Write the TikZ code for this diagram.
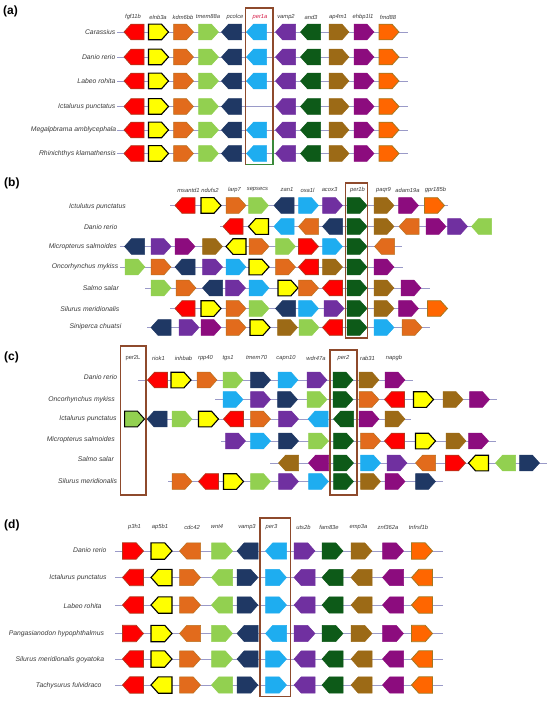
\documentclass[tikz,border=0pt]{standalone}
\usepackage{fontspec}
\setmainfont{Liberation Sans}
\definecolor{cRed}{HTML}{FF0000}
\definecolor{cRedD}{HTML}{B0381C}
\definecolor{cYel}{HTML}{FFFF00}
\definecolor{cOra}{HTML}{E26B1C}
\definecolor{cOraD}{HTML}{B8701E}
\definecolor{cBOra}{HTML}{FF6600}
\definecolor{cBOraD}{HTML}{A37820}
\definecolor{cLG}{HTML}{92D050}
\definecolor{cNav}{HTML}{1F3864}
\definecolor{cLB}{HTML}{1EADF0}
\definecolor{cPur}{HTML}{7030A0}
\definecolor{cDG}{HTML}{0D5A18}
\definecolor{cBrn}{HTML}{9C6A16}
\definecolor{cMag}{HTML}{8C0C7E}
\definecolor{cLine}{HTML}{9A9AC8}
\definecolor{cBox}{HTML}{8E4A2C}
\definecolor{cGrn}{HTML}{3A8A3A}
\definecolor{cTxt}{HTML}{3A3A3A}
\definecolor{cPer}{HTML}{D8204A}
\tikzset{
 gshape/.style={line join=miter, line width=0.5pt},
 redg/.style={fill=cRed, draw=cRedD, line width=0.7pt},
 yelg/.style={fill=cYel, draw=black, line width=1.1pt},
 orag/.style={fill=cOra, draw=cOraD},
 borg/.style={fill=cBOra, draw=cBOraD, line width=0.8pt},
 lgrg/.style={fill=cLG, draw=cLG},
 lgbk/.style={fill=cLG, draw=black, line width=1pt},
 navg/.style={fill=cNav, draw=cNav},
 lblg/.style={fill=cLB, draw=cLB},
 purg/.style={fill=cPur, draw=cPur},
 dkgg/.style={fill=cDG, draw=cDG},
 brng/.style={fill=cBrn, draw=cBrn},
 magg/.style={fill=cMag, draw=cMag},
 bline/.style={draw=cLine, line width=0.6pt},
 hbox/.style={draw=cBox, line width=1.2pt},
 splab/.style={anchor=east, inner sep=0pt, text=cTxt, font=\fontsize{6.8}{8}\selectfont\itshape},
 gnlab/.style={inner sep=0pt, text=cTxt, font=\fontsize{5.8}{7}\selectfont\itshape},
 pnlab/.style={anchor=west, inner sep=0pt, font=\fontsize{12}{14}\selectfont\bfseries},
}
\def\ghw{10}\def\gtp{7}\def\ghh{7.8}
\newcommand\genearrow[4]{\draw[gshape,#4] ({#1-\ghw*(#3)},{#2-\ghh}) -- ({#1+(\ghw-\gtp)*(#3)},{#2-\ghh}) -- ({#1+\ghw*(#3)},{#2}) -- ({#1+(\ghw-\gtp)*(#3)},{#2+\ghh}) -- ({#1-\ghw*(#3)},{#2+\ghh}) -- cycle;}
\newcommand\generow[4]{%
 \draw[bline] (#2,#1) -- (#3,#1);
 \foreach \cx/\dd/\ss in {#4} {\edef\mytmpg{\noexpand\genearrow{\cx}{#1}{\dd}{\ss}}\mytmpg}}
\begin{document}
\begin{tikzpicture}[x=1pt,y=-1pt]
\useasboundingbox (0,0) rectangle (550,703);
\fill[white] (0,0) rectangle (550,703);
% ================= (a)
\node[pnlab] (pa) at (3,11) {(a)};
\foreach \nm/\xx/\tt in {a1/133/fgf11b, a2/158/elnb3a, a3/183/kdm6bb, a4/208/tmem88a, a5/235/pcolce, a7/286/vamp2, a8/311/and3, a9/338/ap4m1, a10/363/ehbp1l1, a11/388/fmd88}
  {\node[gnlab] (g\nm) at (\xx,17) {\tt};}
\node[gnlab, text=cPer] (ga6) at (260,17) {per1a};
\node[splab] (sa1) at (115.5,32) {Carassius};
\node[splab] (sa2) at (115.5,57) {Danio rerio};
\node[splab] (sa3) at (115.5,81) {Labeo rohita};
\node[splab] (sa4) at (115.5,106.5) {Ictalurus punctatus};
\node[splab] (sa5) at (116.5,130) {Megalpbrama amblycephala};
\node[splab] (sa6) at (116,153.5) {Rhinichthys klamathensis};
\generow{32}{117}{408}{134/-1/redg, 158.5/1/yelg, 183.5/1/orag, 208.5/1/lgrg, 231.5/-1/navg, 256.5/-1/lblg, 285.5/-1/purg, 310.5/-1/dkgg, 339/1/brng, 364/1/magg, 389/1/borg}
\generow{57}{117}{408}{134/-1/redg, 158.5/1/yelg, 183.5/1/orag, 208.5/1/lgrg, 231.5/-1/navg, 256.5/-1/lblg, 285.5/-1/purg, 310.5/-1/dkgg, 339/1/brng, 364/1/magg, 389/1/borg}
\generow{81}{117}{408}{134/-1/redg, 158.5/1/yelg, 183.5/1/orag, 208.5/1/lgrg, 231.5/-1/navg, 256.5/-1/lblg, 285.5/-1/purg, 310.5/-1/dkgg, 339/1/brng, 364/1/magg, 389/1/borg}
\generow{106.5}{117}{408}{134/-1/redg, 158.5/1/yelg, 183.5/1/orag, 208.5/1/lgrg, 231.5/-1/navg, 285.5/-1/purg, 310.5/-1/dkgg, 339/1/brng, 364/1/magg, 389/1/borg}
\generow{130}{117}{408}{134/-1/redg, 158.5/1/yelg, 183.5/1/orag, 208.5/1/lgrg, 231.5/-1/navg, 256.5/-1/lblg, 285.5/-1/purg, 310.5/-1/dkgg, 339/1/brng, 364/1/magg, 389/1/borg}
\generow{153.5}{117}{408}{134/-1/redg, 158.5/1/yelg, 183.5/1/orag, 208.5/1/lgrg, 231.5/-1/navg, 256.5/-1/lblg, 285.5/-1/purg, 310.5/-1/dkgg, 339/1/brng, 364/1/magg, 389/1/borg}
\draw[hbox] (245.5,8) rectangle (273,164.5);
\draw[draw=cGrn, line width=1.2pt] (245.5,164.5) -- (273,164.5) -- (273,140);
% ================= (b)
\node[pnlab] (pb) at (4,183) {(b)};
\foreach \nm/\xx/\tt in {b1/188.5/msantd1, b2/210/ndufs2, b3/234.5/larp7, b4/257.5/sepsecs, b5/287/zan1, b6/307.5/oxa1l, b7/329.5/acox3, b8/357.5/per1b, b9/383.5/paqr9, b10/407.5/adam19a, b11/435.5/gpr185b}
  {\node[gnlab] (g\nm) at (\xx,190) {\tt};}
\node[splab] (sb1) at (126,206.5) {Ictulutus punctatus};
\node[splab] (sb2) at (117.5,227) {Danio rerio};
\node[splab] (sb3) at (117,246.5) {Micropterus salmoides};
\node[splab] (sb4) at (118.5,267) {Oncorhynchus mykiss};
\node[splab] (sb5) at (119,288) {Salmo salar};
\node[splab] (sb6) at (119.5,309.5) {Silurus meridionalis};
\node[splab] (sb7) at (121.5,326.5) {Siniperca chuatsi};
\generow{205.5}{170}{448}{185/-1/redg, 211/1/yelg, 236/1/orag, 258.5/1/lgrg, 284/-1/navg, 308.5/1/lblg, 332.5/1/purg, 357/1/dkgg, 384/1/brng, 408.5/1/magg, 434.5/1/borg}
\generow{226.5}{220}{490}{233/-1/redg, 258.5/-1/yelg, 284/-1/lblg, 308.5/-1/orag, 332.5/-1/navg, 357/1/dkgg, 384/1/brng, 409/-1/orag, 436/1/magg, 457.5/1/purg, 481.5/-1/lgrg}
\generow{246.5}{120}{402}{134.5/-1/navg, 161/1/purg, 185/1/magg, 212.5/1/brng, 236/-1/yelg, 259/1/orag, 285.5/1/lgrg, 308.5/1/redg, 332.5/1/lblg, 357/1/dkgg, 384.5/-1/orag}
\generow{267}{120}{403}{135/1/lgrg, 161/1/orag, 185/-1/navg, 212.5/1/purg, 236/1/lblg, 259/1/yelg, 285.5/1/orag, 308.5/-1/redg, 332.5/1/brng, 357/1/dkgg, 384/1/magg}
\generow{288}{145}{430}{161/1/lgrg, 186/1/orag, 212.5/-1/navg, 235.5/1/purg, 259/1/lblg, 288/1/yelg, 308.5/1/orag, 332.5/-1/redg, 357/1/dkgg, 384/1/brng, 411/1/magg}
\generow{308.5}{170}{448}{185/-1/redg, 211/1/yelg, 236/1/orag, 259/1/lgrg, 285.5/-1/navg, 308.5/1/lblg, 334/1/purg, 357/1/dkgg, 384/1/brng, 408.5/1/magg, 437.5/1/borg}
\generow{327.5}{147}{430}{161/-1/navg, 189/1/purg, 211/1/magg, 236/1/orag, 260/1/yelg, 287.5/1/brng, 309/1/lgrg, 332.5/-1/redg, 357/1/dkgg, 384/1/lblg, 412/1/orag}
\draw[hbox] (345.7,183) rectangle (367.3,338);
% ================= (c)
\node[pnlab] (pc) at (4,357) {(c)};
\node[gnlab, font=\fontsize{5.8}{7}\selectfont] (gc1) at (133,358) {per2L};
\foreach \nm/\xx/\tt in {c2/158.5/riok1, c3/183.5/inhbab, c4/205.5/rpp40, c5/228/tgs1, c6/256.5/tmem70, c7/286/capn10, c8/316/wdr47a, c9/343.5/per2, c10/367.5/rab31, c11/394/napgb}
  {\node[gnlab] (g\nm) at (\xx,358) {\tt};}
\node[splab] (sc1) at (117.3,377) {Danio rerio};
\node[splab] (sc2) at (115,400) {Oncorhynchus mykiss};
\node[splab] (sc3) at (116.7,419) {Ictalurus punctatus};
\node[splab] (sc4) at (115,440) {Micropterus salmoides};
\node[splab] (sc5) at (114,459) {Salmo salar};
\node[splab] (sc6) at (117.3,481.5) {Silurus meridionalis};
\generow{380}{138}{413}{157.5/-1/redg, 181/1/yelg, 207/1/orag, 233/1/lgrg, 260.5/1/navg, 288/1/lblg, 317/1/purg, 343/1/dkgg, 369/1/brng, 395/1/magg}
\generow{399.5}{215}{497}{233/1/lblg, 260.5/1/purg, 287.5/1/navg, 317/1/lgrg, 343/1/dkgg, 369/1/orag, 394.5/-1/redg, 423.5/1/yelg, 453/1/brng, 479.5/1/magg}
\generow{419}{125}{411}{134.5/1/lgbk, 157/-1/navg, 182/1/lgrg, 208.5/1/yelg, 233.5/-1/redg, 260.5/1/orag, 288.5/1/purg, 318/-1/lblg, 343.5/-1/dkgg, 369/1/magg, 395/1/brng}
\generow{441}{221}{496}{235.5/1/purg, 260.5/1/lblg, 288.5/1/navg, 318.5/1/lgrg, 343.5/1/dkgg, 370.5/1/orag, 394.5/-1/redg, 425.5/1/yelg, 456/1/brng, 478.5/1/magg}
\generow{463}{270}{547}{288.5/-1/brng, 318.5/-1/magg, 343.5/1/dkgg, 370.5/1/lblg, 397/1/purg, 425.5/-1/orag, 455.5/1/redg, 478.5/-1/yelg, 505.5/-1/lgrg, 529.5/1/navg}
\generow{481.5}{168}{443}{182/1/orag, 208.5/-1/redg, 233.5/1/yelg, 260.5/1/lgrg, 288.5/1/purg, 318.5/1/lblg, 343.5/1/dkgg, 370.5/1/brng, 395/1/magg, 425.5/1/navg}
\draw[hbox] (120.7,346) rectangle (146,495);
\draw[hbox] (330,350) rectangle (357,495);
% ================= (d)
\node[pnlab] (pd) at (4,525) {(d)};
\foreach \nm/\xx/\tt in {d1/134.5/p3h1, d2/160/ap5b1, d3/192/cdc42, d4/217/wnt4, d5/247/vamp3, d6/271.5/per3, d7/303.5/uts2b, d8/329/fam83e, d9/358.5/emp3a, d10/388/znf362a, d11/418.5/tnfrsf1b}
  {\node[gnlab] (g\nm) at (\xx,527) {\tt};}
\node[splab] (sd1) at (106.7,550) {Danio rerio};
\node[splab] (sd2) at (106.7,577.3) {Ictalurus punctatus};
\node[splab] (sd3) at (101.7,606) {Labeo rohita};
\node[splab] (sd4) at (104.3,634) {Pangasianodon hypophthalmus};
\node[splab] (sd5) at (104.3,659.3) {Silurus meridionalis goyatoka};
\node[splab] (sd6) at (101.7,686) {Tachysurus fulvidraco};
\def\ghw{10.5}\def\gtp{7.3}\def\ghh{8.2}
\generow{551}{115}{443}{133/1/redg, 161.5/1/yelg, 190/-1/orag, 222/1/lgrg, 247.5/-1/navg, 276/-1/lblg, 304.5/1/purg, 332.5/1/dkgg, 361.5/1/brng, 393/1/magg, 422/1/borg}
\generow{577.5}{115}{443}{133/-1/redg, 161.5/-1/yelg, 190/1/orag, 222/-1/lgrg, 247.5/1/navg, 276/1/lblg, 304.5/-1/purg, 332.5/-1/dkgg, 361.5/-1/brng, 393/-1/magg, 422/-1/borg}
\generow{605}{115}{443}{133/-1/redg, 161.5/-1/yelg, 190/1/orag, 222/-1/lgrg, 247.5/1/navg, 276/1/lblg, 304.5/-1/purg, 332.5/-1/dkgg, 361.5/-1/brng, 393/-1/magg, 422/-1/borg}
\generow{633.5}{115}{443}{133/1/redg, 161.5/1/yelg, 190/-1/orag, 222/1/lgrg, 247.5/-1/navg, 276/-1/lblg, 304.5/1/purg, 332.5/1/dkgg, 361.5/1/brng, 393/1/magg, 422/1/borg}
\generow{659}{115}{443}{133/-1/redg, 161.5/1/yelg, 190/1/orag, 222/1/lgrg, 247.5/-1/navg, 276/1/lblg, 304.5/-1/purg, 332.5/-1/dkgg, 361.5/-1/brng, 393/-1/magg, 422/-1/borg}
\generow{685}{115}{443}{133/-1/redg, 161.5/-1/yelg, 190/1/orag, 222/-1/lgrg, 247.5/1/navg, 276/1/lblg, 304.5/-1/purg, 332.5/-1/dkgg, 361.5/-1/brng, 393/-1/magg, 422/-1/borg}
\draw[hbox] (260,518) rectangle (290.7,696.7);
\end{tikzpicture}
\end{document}
